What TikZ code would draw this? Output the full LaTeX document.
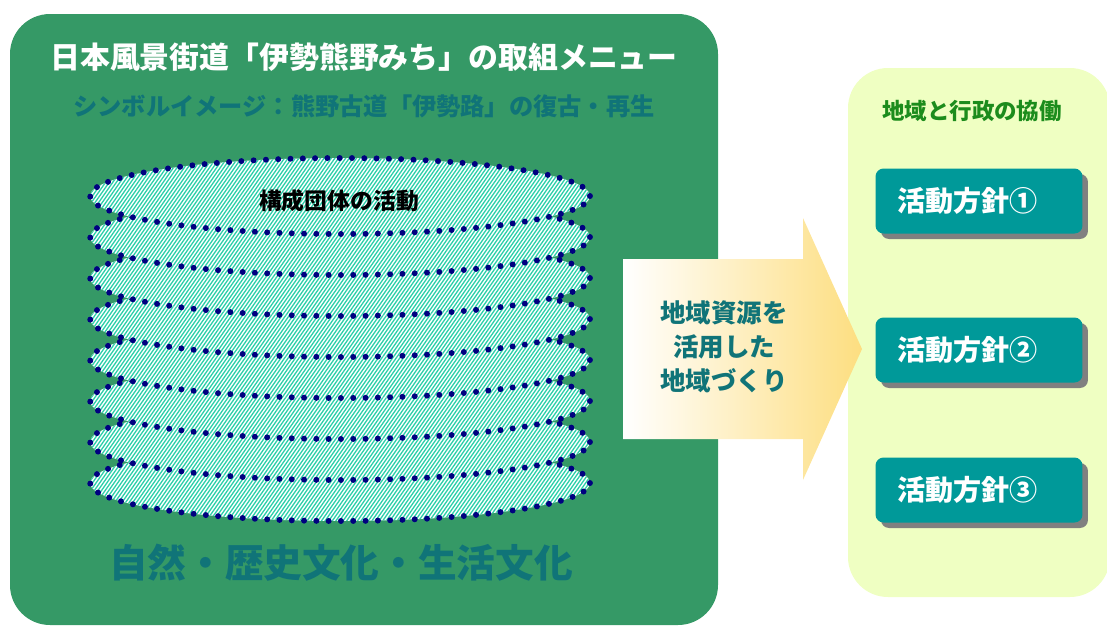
\documentclass[tikz,border=0pt]{standalone}
\usepackage{fontspec}
\setmainfont{Noto Sans CJK JP}
\usetikzlibrary{shadows}

\definecolor{menugreen}{RGB}{53,153,102}
\definecolor{symteal}{RGB}{16,116,120}
\definecolor{hatchmint}{RGB}{45,208,170}
\definecolor{dotnavy}{RGB}{0,0,128}
\definecolor{kyodobg}{RGB}{239,255,194}
\definecolor{kyodogreen}{RGB}{28,140,28}
\definecolor{policyteal}{RGB}{0,153,153}
\definecolor{arrowyellow}{RGB}{253,222,128}

\begin{document}
\begin{tikzpicture}[x=0.02cm,y=-0.02cm,font=\bfseries,
    hatch/.style={hatchmint,line width=0.75pt},
    rim/.style={draw=dotnavy,line width=3.4pt,dash pattern=on 0pt off 7pt,line cap=round},
    policy/.style={fill=policyteal,rounded corners=0.16cm,minimum width=4.14cm,minimum height=1.3cm,
      text width=3.26cm,inner xsep=0.44cm,align=left,text=white,font=\bfseries\fontsize{16}{18}\selectfont,
      drop shadow={shadow xshift=0.11cm,shadow yshift=-0.11cm,fill=black!50,opacity=1}}]

    \useasboundingbox (0,0) rectangle (1107,627);

    % panels
    \fill[menugreen, rounded corners=0.8cm] (10,14) rectangle (718,625);
    \fill[kyodobg, rounded corners=0.8cm] (848,68) rectangle (1110,597);

    \node (title) [text=white,font=\bfseries\fontsize{17}{20}\selectfont] at (364,57)
      {日本風景街道「伊勢熊野みち」の取組メニュー};
    \node (symbol) [text=symteal,font=\bfseries\fontsize{13.8}{16}\selectfont] at (364,106)
      {シンボルイメージ：熊野古道「伊勢路」の復古・再生};

    % stacked activities, bottom one first
    \foreach \i in {7,6,...,0} {
      \pgfmathsetmacro\cy{196+41*\i}
      \begin{scope}
        \clip (340,\cy) ellipse [x radius=5cm, y radius=0.76cm];
        \fill[white] (80,\cy-45) rectangle (600,\cy+45);
        \foreach \x in {60,63.6,...,625}
          \draw[hatch] ({\x-28},\cy+40) -- ({\x+28},\cy-40);
      \end{scope}
      \draw[rim] (340,\cy) ellipse [x radius=5cm, y radius=0.76cm];
    }

    \node (members) [font=\bfseries\fontsize{13}{15}\selectfont] at (339,201) {構成団体の活動};

    \node (heritage) [text=symteal,font=\bfseries\fontsize{22}{24}\selectfont] at (341,563)
      {自然・歴史文化・生活文化};

    % arrow
    \shade[left color=white, right color=arrowyellow]
      (623,259) -- (803,259) -- (803,218) -- (862,349) -- (803,480) -- (803,439) -- (623,439) -- cycle;
    \node (resource) [text=symteal,align=center,font=\bfseries\fontsize{14.5}{19.5}\selectfont] at (724,347)
      {地域資源を\\活用した\\地域づくり};

    % right side
    \node (kyodo) [text=kyodogreen,font=\bfseries\fontsize{12.8}{15}\selectfont] at (972,111) {地域と行政の協働};

    \node (policy1) [policy] at (979,201) {活動方針①};
    \node (policy2) [policy] at (979,350) {活動方針②};
    \node (policy3) [policy] at (979,490) {活動方針③};

\end{tikzpicture}
\end{document}
